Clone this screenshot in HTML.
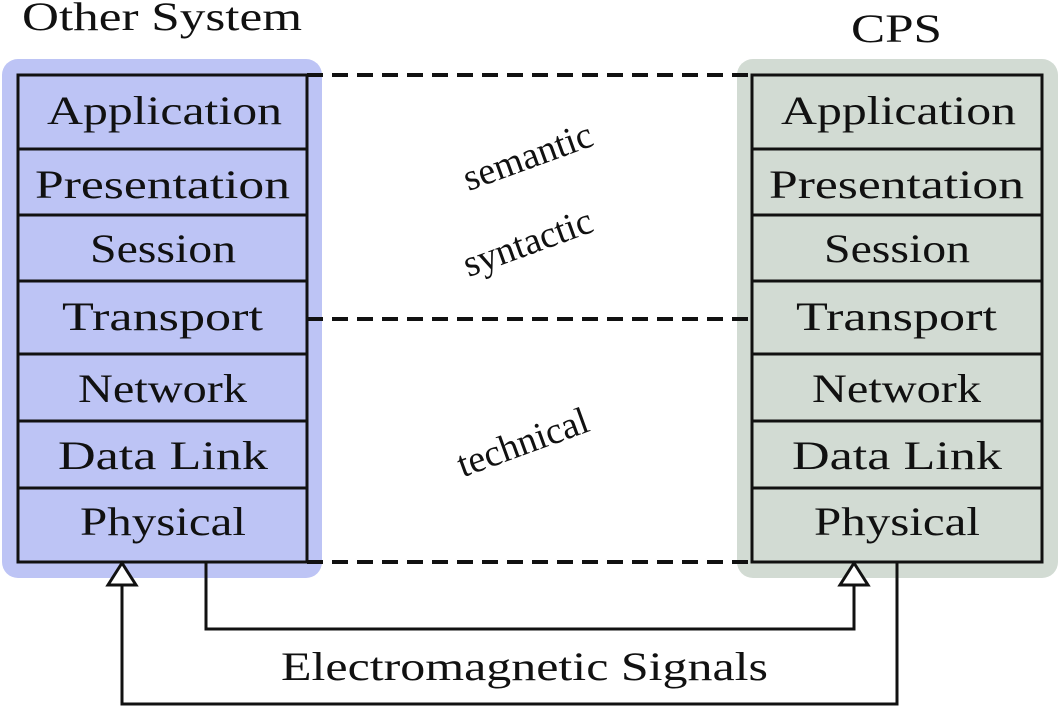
<!DOCTYPE html>
<html><head><meta charset="utf-8"><style>body{margin:0;background:#fff}svg{display:block}text{font-family:"Liberation Serif",serif;fill:#111}</style></head><body>
<svg width="1063" height="716" viewBox="0 0 1063 716" xmlns="http://www.w3.org/2000/svg">
<rect x="2" y="59" width="320" height="519" rx="16" fill="#bdc4f5"/>
<rect x="737" y="59" width="321" height="519" rx="16" fill="#d2dbd3"/>
<g fill="none" stroke="#111" stroke-width="3">
<rect x="18" y="75" width="289" height="487"/>
<rect x="752" y="75" width="290" height="487"/>
<path d="M18 149H307M18 215H307M18 281H307M18 354H307M18 421H307M18 488H307"/>
<path d="M752 149H1042M752 215H1042M752 281H1042M752 354H1042M752 421H1042M752 488H1042"/>
<path d="M307 75V562" />
<path d="M307 75H752M307 319H752M307 562H752" stroke-dasharray="16 9" stroke-width="4"/>
<path d="M206 562V629H854V585"/>
<path d="M897 562V704H122V585"/>
<path d="M122 563L108 585H136Z" fill="#fff"/>
<path d="M854 563L840 585H868Z" fill="#fff"/>
</g>
<g font-size="40" text-anchor="start">
<text x="22" y="30" textLength="280" lengthAdjust="spacingAndGlyphs">Other System</text>
<text x="851" y="42" textLength="91" lengthAdjust="spacingAndGlyphs">CPS</text>
<text x="47" y="124" textLength="235" lengthAdjust="spacingAndGlyphs">Application</text>
<text x="35" y="198" textLength="255" lengthAdjust="spacingAndGlyphs">Presentation</text>
<text x="90" y="262" textLength="146" lengthAdjust="spacingAndGlyphs">Session</text>
<text x="62" y="330" textLength="201" lengthAdjust="spacingAndGlyphs">Transport</text>
<text x="78" y="402" textLength="169" lengthAdjust="spacingAndGlyphs">Network</text>
<text x="58" y="469" textLength="210" lengthAdjust="spacingAndGlyphs">Data Link</text>
<text x="80" y="535" textLength="166" lengthAdjust="spacingAndGlyphs">Physical</text>
<text x="781" y="124" textLength="235" lengthAdjust="spacingAndGlyphs">Application</text>
<text x="769" y="198" textLength="255" lengthAdjust="spacingAndGlyphs">Presentation</text>
<text x="824" y="262" textLength="146" lengthAdjust="spacingAndGlyphs">Session</text>
<text x="796" y="330" textLength="201" lengthAdjust="spacingAndGlyphs">Transport</text>
<text x="812" y="402" textLength="169" lengthAdjust="spacingAndGlyphs">Network</text>
<text x="792" y="469" textLength="210" lengthAdjust="spacingAndGlyphs">Data Link</text>
<text x="814" y="535" textLength="166" lengthAdjust="spacingAndGlyphs">Physical</text>
<text x="281" y="680" textLength="487" lengthAdjust="spacingAndGlyphs">Electromagnetic Signals</text>
</g>
<g font-size="38" text-anchor="middle">
<text transform="translate(532,168) rotate(-20)">semantic</text>
<text transform="translate(532,254) rotate(-20)">syntactic</text>
<text transform="translate(527,454) rotate(-20)">technical</text>
</g>
</svg>
</body></html>
